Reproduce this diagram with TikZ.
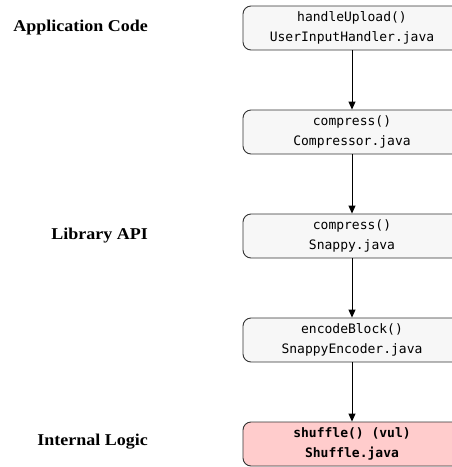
\documentclass[tikz,border=0pt]{standalone}
\usepackage{fontspec}
\setmainfont{Liberation Serif}
\newfontfamily\labelfont[FakeStretch=1.09]{Liberation Serif}
\newfontfamily\codefont{DejaVu Sans Mono}
\usetikzlibrary{arrows.meta}
\definecolor{boxfill}{HTML}{F7F7F7}
\definecolor{boxdraw}{HTML}{333333}
\definecolor{vulfill}{HTML}{FFCCCC}
\tikzset{
  callbox/.style={draw=boxdraw, fill=boxfill, line width=0.9pt, rounded corners=8pt,
    minimum width=218pt, minimum height=44pt, inner sep=0pt, align=center,
    font=\codefont\fontsize{13}{20}\selectfont},
  vulbox/.style={callbox, fill=vulfill, font=\codefont\bfseries\fontsize{13}{20}\selectfont},
  layerlabel/.style={anchor=east, inner sep=0pt, font=\labelfont\fontsize{16.5}{20}\selectfont\bfseries},
  callarrow/.style={draw=black, line width=0.9pt, -{Triangle[length=8pt,width=7pt]}}
}
\begin{document}
\begin{tikzpicture}[x=1pt,y=-1pt]
\useasboundingbox (0,0) rectangle (452,467);
\clip (0,0) rectangle (452,467);
\node[callbox] (b1) at (352,28) {handleUpload()\\UserInputHandler.java};
\node[callbox] (b2) at (352,132) {compress()\\Compressor.java};
\node[callbox] (b3) at (352,236) {compress()\\Snappy.java};
\node[callbox] (b4) at (352,340) {encodeBlock()\\SnappyEncoder.java};
\node[vulbox] (b5) at (352,444) {shuffle() (vul)\\Shuffle.java};
\node[layerlabel] (l1) at (148,28) {Application Code};
\node[layerlabel] (l2) at (148,236) {Library API};
\node[layerlabel] (l3) at (148,442) {Internal Logic};
\draw[callarrow] (b1) -- (b2);
\draw[callarrow] (b2) -- (b3);
\draw[callarrow] (b3) -- (b4);
\draw[callarrow] (b4) -- (b5);
\end{tikzpicture}
\end{document}
